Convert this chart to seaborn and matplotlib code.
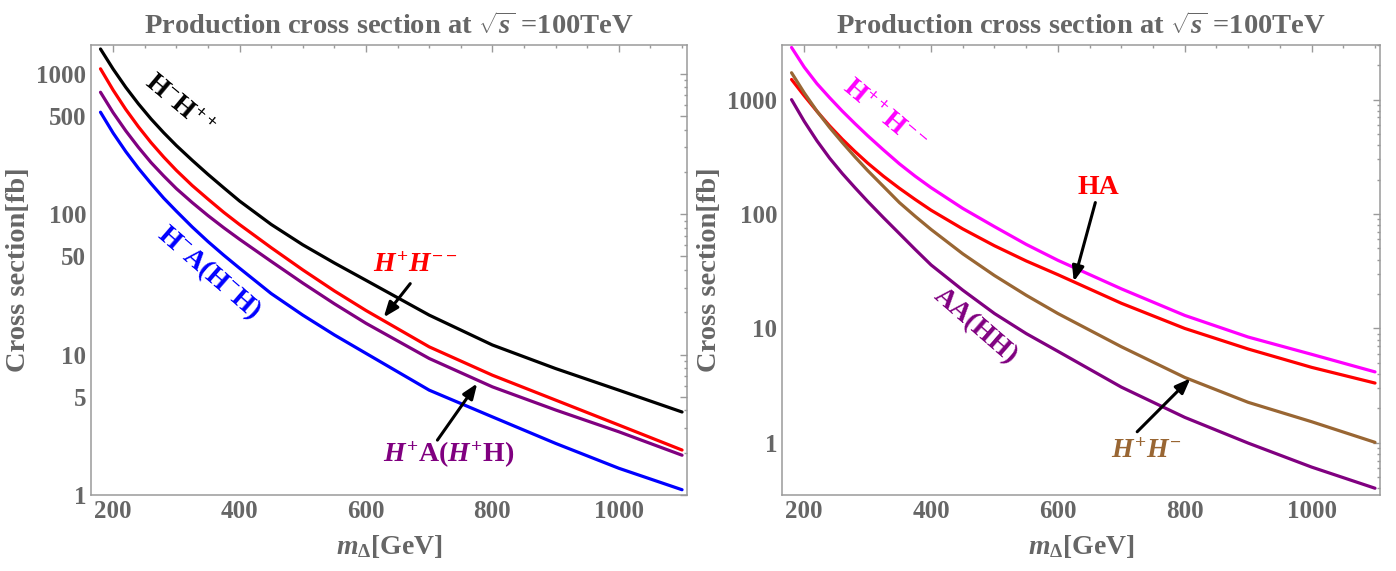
import numpy as np
import pandas as pd
import matplotlib
matplotlib.use("Agg")
import matplotlib.pyplot as plt
import seaborn as sns
from matplotlib.ticker import FixedLocator, FixedFormatter, NullFormatter

# ---------------- data ----------------
mass = [180, 200, 220, 240, 260, 280, 300, 325, 350, 375, 400, 450, 500, 550,
        600, 700, 800, 900, 1000, 1100]

# left panel
left_HmHpp = [1500, 1079, 800, 610, 476, 380, 308, 242, 192, 154, 124, 84.5,
              60.5, 44.9, 33.8, 19.1, 11.7, 7.95, 5.58, 3.9]
left_HpHmm = [1084, 764, 557, 419, 323, 255, 205, 160, 128, 103, 84.3, 57.7,
              40.1, 28.4, 20.6, 11.35, 7.13, 4.74, 3.15, 2.09]
left_HpA = [738, 528, 392, 299, 233, 187, 152, 121, 97.7, 80, 66.2, 46.1,
            32.3, 23.0, 16.7, 9.38, 5.89, 4.03, 2.82, 1.92]
left_HmA = [532, 378, 279, 212, 165, 130, 105, 81.1, 63.8, 51.0, 41.2, 27.2,
            19.1, 13.8, 10.2, 5.58, 3.6, 2.33, 1.55, 1.09]

# right panel
right_HppHmm = [2858, 1923, 1380, 1040, 794, 617, 484, 363, 275, 214, 170, 112,
                77.6, 54.3, 39.4, 22.2, 13.0, 8.41, 5.94, 4.17]
right_HA = [1500, 1081, 791, 590, 451, 352, 279, 214, 168, 134, 108, 74.1,
            52.8, 38.9, 29.5, 16.6, 10.0, 6.61, 4.57, 3.33]
right_HpHm = [1718, 1146, 794, 571, 422, 316, 240, 174, 126, 95.5, 73.3, 44.9,
              29.0, 19.5, 13.5, 6.92, 3.73, 2.26, 1.53, 1.01]
right_AA = [1000, 646, 437, 308, 226, 170, 129, 92.9, 67.5, 49.0, 35.9, 21.6,
            13.5, 9.02, 6.31, 3.07, 1.67, 0.995, 0.614, 0.401]

x_ticks = [200, 400, 600, 800, 1000]
left_yticks = [1, 5, 10, 50, 100, 500, 1000]
right_yticks = [1, 10, 100, 1000]

title_text = r"Production cross section at $\sqrt{s}$ =100TeV"
xlabel_text = r"$m_{\Delta}$[GeV]"
ylabel_text = "Cross section[fb]"

# ---------------- style ----------------
sns.set_style("white")
plt.rcParams['font.family'] = ['Liberation Serif', 'DejaVu Serif']
plt.rcParams['font.weight'] = 'bold'
plt.rcParams['mathtext.fontset'] = 'custom'
plt.rcParams['mathtext.rm'] = 'Liberation Serif:bold'
plt.rcParams['mathtext.it'] = 'Liberation Serif:italic:bold'
plt.rcParams['mathtext.bf'] = 'Liberation Serif:bold'

GRAY = '#666666'
FRAME = '#9a9a9a'
LW = 2.3

fig = plt.figure(figsize=(13.96, 5.71), dpi=100)
axL = fig.add_axes([0.0652, 0.1331, 0.427, 0.788])
axR = fig.add_axes([0.5602, 0.1331, 0.4284, 0.788])


def long_df(series):
    rows = []
    for name, vals in series.items():
        for m, v in zip(mass, vals):
            rows.append({"mass": m, "xsec": v, "proc": name})
    return pd.DataFrame(rows)


dfL = long_df({"HmHpp": left_HmHpp, "HpHmm": left_HpHmm,
               "HpA": left_HpA, "HmA": left_HmA})
palL = {"HmHpp": "black", "HpHmm": "#ff0000", "HpA": "#800080", "HmA": "#0000ff"}
sns.lineplot(data=dfL, x="mass", y="xsec", hue="proc", palette=palL,
             linewidth=LW, ax=axL, legend=False, sort=True)

dfR = long_df({"HppHmm": right_HppHmm, "HA": right_HA,
               "HpHm": right_HpHm, "AA": right_AA})
palR = {"HppHmm": "#ff00ff", "HA": "#ff0000", "HpHm": "#996633", "AA": "#800080"}
sns.lineplot(data=dfR, x="mass", y="xsec", hue="proc", palette=palR,
             linewidth=LW, ax=axR, legend=False, sort=True)


def style_axes(ax, ylim, yticks):
    ax.set_yscale('log')
    ax.set_xlim(165, 1108)
    ax.set_ylim(*ylim)
    ax.xaxis.set_major_locator(FixedLocator(x_ticks))
    ax.xaxis.set_minor_locator(FixedLocator(list(range(200, 1101, 50))))
    ax.yaxis.set_major_locator(FixedLocator(yticks))
    ax.yaxis.set_major_formatter(FixedFormatter([str(t) for t in yticks]))
    minors = []
    for dec in [0.1, 1, 10, 100, 1000]:
        for k in range(2, 10):
            v = k * dec
            if ylim[0] <= v <= ylim[1] and v not in yticks:
                minors.append(v)
    ax.yaxis.set_minor_locator(FixedLocator(minors))
    ax.yaxis.set_minor_formatter(NullFormatter())
    ax.tick_params(which='both', direction='in', top=True, right=True,
                   colors=FRAME, labelcolor=GRAY, labelsize=18, width=1.0)
    ax.tick_params(which='major', length=5)
    ax.tick_params(which='minor', length=2.5)
    for lab in ax.get_xticklabels() + ax.get_yticklabels():
        lab.set_fontweight('bold')
    for sp in ax.spines.values():
        sp.set_color(FRAME)
        sp.set_linewidth(1.1)
    ax.set_title(title_text, fontsize=20.5, color=GRAY, fontweight='bold', pad=8)
    ax.set_xlabel(xlabel_text, fontsize=20, color=GRAY, fontweight='bold', labelpad=7)
    ax.set_ylabel(ylabel_text, fontsize=20.5, color=GRAY, fontweight='bold', labelpad=4)


style_axes(axL, (1, 1600), left_yticks)
style_axes(axR, (0.35, 3000), right_yticks)

# ---------------- annotations ----------------
arrow = dict(arrowstyle='-|>,head_length=0.9,head_width=0.35', color='black', lw=2.2,
             shrinkA=0, shrinkB=0)
fs = 20

axL.text(303, 594, r"$\mathrm{H}^{-}\mathrm{H}^{++}$", color='black', fontsize=fs,
         rotation=-40, ha='center', va='center', rotation_mode='anchor')
axL.text(352, 38, r"$\mathrm{H}^{-}\mathrm{A}(\mathrm{H}^{-}\mathrm{H})$", color='#0000ff',
         fontsize=fs, rotation=-41, ha='center', va='center', rotation_mode='anchor')
axL.text(678, 43, r"$H^{+}H^{--}$", color='#ff0000', fontsize=fs,
         ha='center', va='center')
axL.annotate("", xy=(628, 18.4), xytext=(670, 32), arrowprops=arrow)
axL.text(730, 1.92, r"$H^{+}\mathrm{A}(H^{+}\mathrm{H})$", color='#800080', fontsize=fs,
         ha='center', va='center')
axL.annotate("", xy=(776, 6.23), xytext=(713, 2.46), arrowprops=arrow)

axR.text(325, 720, r"$\mathrm{H}^{++}\mathrm{H}^{--}$", color='#ff00ff', fontsize=fs,
         rotation=-40, ha='center', va='center', rotation_mode='anchor')
axR.text(664, 172, "HA", color='#ff0000', fontsize=fs, fontweight='bold',
         ha='center', va='center')
axR.annotate("", xy=(625, 25.7), xytext=(659, 126), arrowprops=arrow)
axR.text(470, 10.5, "AA(HH)", color='#800080', fontsize=fs, fontweight='bold',
         rotation=-41, ha='center', va='center', rotation_mode='anchor')
axR.text(740, 0.834, r"$H^{+}H^{-}$", color='#996633', fontsize=fs,
         ha='center', va='center')
axR.annotate("", xy=(809, 3.66), xytext=(725, 1.25), arrowprops=arrow)

fig.savefig("out.png", dpi=100)
